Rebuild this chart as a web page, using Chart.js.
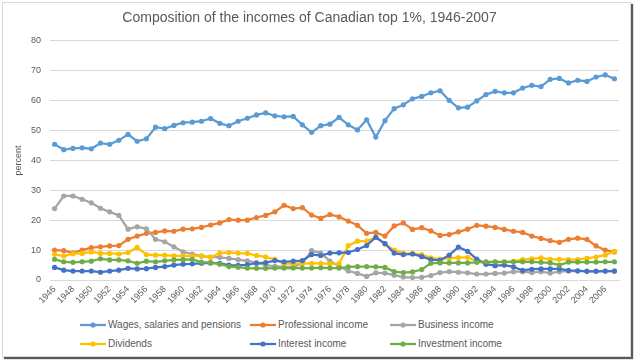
<!DOCTYPE html>
<html>
<head>
<meta charset="utf-8">
<script src="https://cdn.jsdelivr.net/npm/chart.js@4/dist/chart.umd.min.js"></script>
<style>
  html, body { margin: 0; padding: 0; background: #ffffff; }
  #frame { position: absolute; left: 2px; top: 2px; width: 627px; height: 353px;
           border: 1px solid #d9d9d9; box-shadow: 2px 2px 1px #5a5a5a; background: #fff; }
  #wrap { position: absolute; left: 0; top: 0; width: 638px; height: 310px; }
  #legend { position: absolute; left: 80px; top: 318px; display: grid;
            grid-template-columns: 170px 140px 200px; row-gap: 6px;
            font-family: "Liberation Sans", Arial, sans-serif; font-size: 10px; color: #595959; }
  .item { display: flex; align-items: center; height: 13px; white-space: nowrap; }
  .item svg { margin-right: 2px; }
</style>
</head>
<body>
<div id="frame"></div>
<div id="wrap"><canvas id="c" width="638" height="310"></canvas></div>
<div id="legend"></div>
<script>
const years = [];
for (let y = 1946; y <= 2007; y++) years.push(String(y));

const wages = [45.4,43.6,44.0,44.2,43.9,45.8,45.4,46.7,48.7,46.4,47.2,51.1,50.6,51.7,52.6,52.8,53.1,54.0,52.4,51.6,
  53.1,54.1,55.2,55.9,54.9,54.6,54.7,51.9,49.4,51.6,52.1,54.4,51.9,50.2,53.6,47.8,53.3,57.3,58.6,60.6,
  61.4,62.6,63.3,60.1,57.6,57.8,59.9,62.0,63.1,62.6,62.6,64.2,65.1,64.7,67.1,67.4,65.9,66.8,66.4,67.9,68.6,67.3];
const professional = [10.0,9.8,9.1,10.0,10.8,11.1,11.4,11.5,13.6,14.7,15.6,15.9,16.4,16.3,17.0,17.1,17.6,18.4,19.1,20.2,
  20.0,20.0,20.9,21.6,22.8,25.0,23.9,24.2,21.7,20.6,21.9,21.1,19.7,18.3,15.6,15.9,14.7,18.1,19.1,16.9,
  17.5,16.4,14.9,15.2,16.1,17.0,18.3,18.0,17.6,16.9,16.3,15.9,14.7,13.9,13.2,12.6,13.6,14.0,13.6,11.4,10.0,9.4];
const business = [23.9,28.1,28.1,27.0,25.8,24.0,22.8,21.6,17.0,17.8,17.1,13.6,12.8,11.1,9.4,8.7,8.0,7.7,7.6,7.2,
  6.8,6.4,5.8,5.0,4.6,4.4,4.4,5.5,9.8,9.0,6.3,4.6,3.0,2.2,1.2,2.4,2.3,1.6,1.0,0.8,
  0.9,1.5,2.5,2.8,2.6,2.4,2.0,2.0,2.2,2.3,2.8,2.8,2.5,2.8,2.3,2.8,3.0,3.0,3.0,3.0,3.0,3.0];
const dividends = [8.6,8.0,8.8,8.9,9.4,8.9,8.9,8.7,9.2,10.9,8.5,8.3,8.3,8.1,8.1,8.1,8.1,7.6,9.0,9.2,
  9.0,8.9,8.2,7.7,6.9,5.5,5.4,5.6,5.6,5.6,5.4,5.5,11.5,13.0,13.0,14.3,12.0,10.0,9.0,8.9,
  8.5,7.4,7.0,7.3,7.5,7.6,6.3,6.0,6.0,6.0,6.2,6.8,7.1,7.4,6.9,6.9,6.8,6.8,7.2,7.7,8.3,9.6];
const interest = [4.2,3.3,3.0,3.0,3.0,2.6,3.0,3.3,3.9,3.7,3.8,4.2,4.5,5.0,5.3,5.4,5.6,5.7,5.6,5.0,
  4.9,5.1,5.6,5.8,6.5,6.1,6.3,6.5,8.5,8.2,9.0,9.1,9.2,10.2,11.5,14.3,12.2,9.0,8.5,8.7,
  7.8,6.8,6.6,8.3,11.0,9.6,7.0,5.3,4.8,5.0,4.4,3.2,3.6,3.7,3.7,3.7,3.2,3.1,2.9,2.9,3.0,3.0];
const investment = [6.9,6.1,5.9,6.1,6.3,7.1,6.7,6.7,6.4,5.6,6.3,6.1,6.4,6.7,6.8,6.9,6.0,5.8,5.3,4.5,
  4.3,4.0,3.9,3.9,4.0,4.0,4.0,4.0,4.0,4.1,4.0,4.0,4.4,4.5,4.5,4.4,4.2,2.8,2.5,2.7,
  3.5,5.6,5.7,5.7,5.7,5.7,5.9,6.1,6.1,6.1,6.1,6.1,6.1,5.9,5.7,5.0,6.0,6.0,6.0,6.0,6.1,6.1];
const yTicks = [0,10,20,30,40,50,60,70,80];

const seriesNames = ["Wages, salaries and pensions","Professional income","Business income",
  "Dividends","Interest income","Investment income"];
const seriesData = [wages, professional, business, dividends, interest, investment];
const colors = ["#5B9BD5","#ED7D31","#A5A5A5","#FFC000","#4472C4","#70AD47"];

const datasets = seriesData.map((d, i) => ({
  label: seriesNames[i],
  data: d,
  borderColor: colors[i],
  backgroundColor: colors[i],
  borderWidth: 2.25,
  pointRadius: 2.6,
  pointHoverRadius: 2.6,
  pointBorderWidth: 0,
  tension: 0,
  order: 5 - i
}));

const txt = "#595959";
new Chart(document.getElementById("c"), {
  type: "line",
  data: { labels: years, datasets },
  options: {
    responsive: false,
    animation: false,
    events: [],
    layout: { padding: { left: 0, right: 19, top: 0, bottom: 0 } },
    plugins: {
      legend: { display: false },
      tooltip: { enabled: false },
      title: {
        display: true,
        text: "Composition of the incomes of Canadian top 1%, 1946-2007",
        color: txt,
        font: { family: "'Liberation Sans', Arial, sans-serif", size: 14, weight: "normal" },
        padding: { top: 10, bottom: 14 }
      }
    },
    scales: {
      x: {
        offset: true,
        grid: { display: false, drawTicks: false },
        border: { display: true, color: "#d9d9d9", width: 1 },
        ticks: {
          autoSkip: false, maxRotation: 45, minRotation: 45, padding: 4,
          color: txt, font: { family: "'Liberation Sans', Arial, sans-serif", size: 9 },
          callback: function(v, i) { return i % 2 === 0 ? years[i] : ""; }
        },
        afterFit: s => { s.height = 30; }
      },
      y: {
        min: 0, max: 80,
        afterBuildTicks: s => { s.ticks = yTicks.map(v => ({ value: v })); },
        grid: { color: "#d9d9d9", drawTicks: false },
        border: { display: false },
        ticks: { padding: 9, color: txt, font: { family: "'Liberation Sans', Arial, sans-serif", size: 9 } },
        title: { display: true, text: "percent", color: txt,
          font: { family: "'Liberation Sans', Arial, sans-serif", size: 9 }, padding: { top: 13, bottom: 0 } },
        afterFit: s => { s.width = 50; }
      }
    }
  }
});

const leg = document.getElementById("legend");
seriesNames.forEach((n, i) => {
  const el = document.createElement("div");
  el.className = "item";
  el.innerHTML = '<svg width="26" height="8"><line x1="0" y1="4" x2="26" y2="4" stroke="' + colors[i] +
    '" stroke-width="2.25"/><circle cx="13" cy="4" r="2.6" fill="' + colors[i] + '"/></svg>';
  const s = document.createElement("span");
  s.textContent = n;
  el.appendChild(s);
  leg.appendChild(el);
});
</script>
</body>
</html>
